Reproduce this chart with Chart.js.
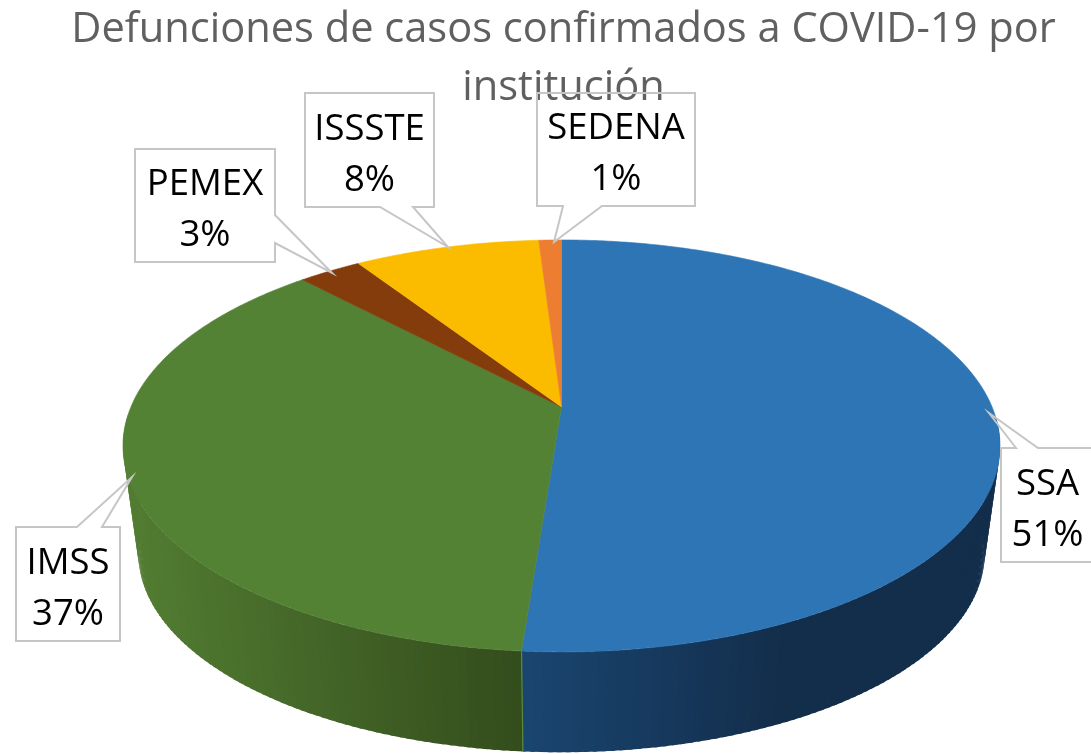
<!DOCTYPE html>
<html><head><meta charset="utf-8">
<style>html,body{margin:0;padding:0;background:#fff}#w{width:1091px;height:754px;position:relative;overflow:hidden}</style>
<script src="https://cdn.jsdelivr.net/npm/chart.js@4/dist/chart.umd.min.js"></script>
</head><body><div id="w"><canvas id="c" width="1091" height="754"></canvas></div>
<script>
const titleLines = ['Defunciones de casos confirmados a COVID-19 por', 'institución'];
const categories = ['SSA', 'IMSS', 'PEMEX', 'ISSSTE', 'SEDENA'];
const values = [51.2, 36.8, 2.8, 8.2, 1.0];
const faceColors = ['#2e75b6', '#548235', '#843c0c', '#fbbc00', '#ed7d31'];

// Callout layout (box + pointer), kept apart from the data
const callouts = [
  {box:[1001,448,1094,562], ptr:[[1016,448],[989,413],[1038,448]]},
  {box:[16,527,120,641],    ptr:[[77,527],[132,477],[102,527]]},
  {box:[135,149,275,262],   ptr:[[275,215],[332,273],[275,243]]},
  {box:[305,93,434,207],    ptr:[[380,207],[448,247],[413,207]]},
  {box:[537,93,695,206],    ptr:[[563,206],[554,242],[602,206]]}
];
// Perspective disc: top face and bottom face
const P = 0.189;
const top_ = {cx:561.5, cy:407, A:430.6, B:198.6};
const bot_ = {cx:561.5, cy:516, A:415.5, B:191.6};
function proj(f, ang){
  const a = ang + Math.PI/2, u = Math.sin(a), v = -Math.cos(a), w = 1 - P*v;
  return [f.cx + f.A*u/w, f.cy + f.B*v/w];
}
const lerp = (c1,c2,t)=>`rgb(${c1.map((c,i)=>Math.round(c+(c2[i]-c)*t)).join(',')})`;
const sideShades = [
  x=>lerp([26,69,112],[19,46,75],Math.min(1,Math.max(0,(x-522)/260))),
  x=>lerp([51,76,28],[82,124,50],Math.min(1,Math.max(0,(522-x)/392)))
];
const pie3d = {
  id:'pie3d',
  beforeDatasetDraw(chart){
    const ctx = chart.ctx, arcs = chart.getDatasetMeta(0).data;
    const step = Math.PI/180;
    // side wall: front part of the disc only
    arcs.forEach((arc,i)=>{
      const shade = sideShades[i]; if(!shade) return;
      for(let a=arc.startAngle; a<arc.endAngle-1e-6; a+=step){
        if(Math.sin(a) < 0.05) continue;
        const b = Math.min(a+step*1.5, arc.endAngle);
        const p1=proj(top_,a), p2=proj(top_,b), p3=proj(bot_,b), p4=proj(bot_,a);
        ctx.beginPath();ctx.moveTo(...p1);ctx.lineTo(...p2);ctx.lineTo(...p3);ctx.lineTo(...p4);ctx.closePath();
        ctx.fillStyle=shade((p1[0]+p2[0])/2);ctx.fill();
      }
    });
    // seam between the two front walls
    const seam = arcs[0].endAngle, s1=proj(top_,seam), s2=proj(bot_,seam);
    ctx.beginPath();ctx.moveTo(...s1);ctx.lineTo(...s2);ctx.strokeStyle='#5b8a3a';ctx.lineWidth=1.2;ctx.stroke();
    // top face
    arcs.forEach((arc,i)=>{
      ctx.beginPath();ctx.moveTo(top_.cx,top_.cy);
      const n=Math.max(2,Math.ceil((arc.endAngle-arc.startAngle)/(step/2)));
      for(let k=0;k<=n;k++){ctx.lineTo(...proj(top_,arc.startAngle+(arc.endAngle-arc.startAngle)*k/n));}
      ctx.closePath();
      ctx.fillStyle=faceColors[i];ctx.strokeStyle=faceColors[i];ctx.lineWidth=0.6;ctx.fill();ctx.stroke();
    });
    return false;
  },
  afterDatasetsDraw(chart){
    const ctx = chart.ctx;
    ctx.save();
    callouts.forEach((c,i)=>{
      const [x0,y0,x1,y1]=c.box;
      ctx.beginPath();
      const [a,t,b]=c.ptr;
      if(a[1]===y0){ ctx.moveTo(x0,y0);ctx.lineTo(...a);ctx.lineTo(...t);ctx.lineTo(...b);ctx.lineTo(x1,y0);ctx.lineTo(x1,y1);ctx.lineTo(x0,y1);}
      else if(a[1]===y1){ ctx.moveTo(x0,y0);ctx.lineTo(x1,y0);ctx.lineTo(x1,y1);ctx.lineTo(...b);ctx.lineTo(...t);ctx.lineTo(...a);ctx.lineTo(x0,y1);}
      else { ctx.moveTo(x0,y0);ctx.lineTo(x1,y0);ctx.lineTo(...a);ctx.lineTo(...t);ctx.lineTo(...b);ctx.lineTo(x1,y1);ctx.lineTo(x0,y1);}
      ctx.closePath();
      ctx.strokeStyle='#c6c6c6';ctx.lineWidth=2;ctx.stroke();
      ctx.fillStyle='#000';ctx.font='36.5px "Open Sans"';ctx.textAlign='center';ctx.textBaseline='middle';
      const cx=(x0+x1)/2, cy=(y0+y1)/2;
      ctx.fillText(categories[i],cx,cy-25.5+5);
      ctx.fillText(Math.round(values[i])+'%',cx,cy+25.5+5);
    });
    ctx.restore();
  }
};
new Chart(document.getElementById('c'),{
  type:'pie',
  data:{labels:categories,datasets:[{data:values,backgroundColor:faceColors,borderWidth:0}]},
  options:{
    responsive:false,animation:false,
    layout:{padding:{left:36,top:0}},
    events:[],
    plugins:{
      legend:{display:false},tooltip:{enabled:false},
      title:{display:true,text:titleLines,color:'#606060',padding:{top:1,bottom:0},
        font:{family:'"Open Sans"',size:41.6,weight:'normal',lineHeight:1.4}}
    }
  },
  plugins:[pie3d]
});
</script></body></html>
